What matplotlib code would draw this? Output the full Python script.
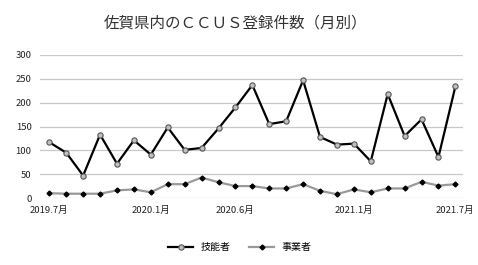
import matplotlib
matplotlib.use("Agg")
import matplotlib.pyplot as plt

plt.rcParams['font.family'] = ['Noto Sans CJK JP', 'DejaVu Sans']

months = ["2019.7月", "2019.8月", "2019.9月", "2019.10月", "2019.11月", "2019.12月",
          "2020.1月", "2020.2月", "2020.3月", "2020.4月", "2020.5月", "2020.6月",
          "2020.7月", "2020.8月", "2020.9月", "2020.10月", "2020.11月", "2020.12月",
          "2021.1月", "2021.2月", "2021.3月", "2021.4月", "2021.5月", "2021.6月", "2021.7月"]
technicians = [117, 95, 47, 133, 72, 121, 91, 148, 101, 105, 146, 190,
               237, 155, 161, 247, 128, 112, 114, 77, 218, 130, 165, 86, 234]
businesses = [10, 9, 9, 9, 16, 18, 12, 29, 29, 43, 33, 25,
              25, 20, 20, 29, 15, 8, 18, 12, 20, 20, 34, 26, 29]
shown_labels = ["2019.7月", "2020.1月", "2020.6月", "2021.1月", "2021.7月"]
yticks = [0, 50, 100, 150, 200, 250, 300]

fig = plt.figure(figsize=(4.78, 2.65), dpi=100)
ax = fig.add_axes([40/478, 1-198/265, (463-40)/478, (198-55)/265])

x = list(range(len(months)))
ax.plot(x, businesses, color='#999999', lw=1.6, marker='D', ms=2.5,
        mfc='black', mec='black', label='事業者', zorder=3)
ax.plot(x, technicians, color='black', lw=1.6, marker='o', ms=3.8,
        mfc='#c0c0c0', mec='#555555', mew=0.8, label='技能者', zorder=4)

ax.set_ylim(0, 300)
ax.set_xlim(-0.55, len(months) - 0.55)
ax.set_yticks(yticks)
ax.set_yticklabels([str(v) for v in yticks], fontsize=6.8, color='#222222')
tick_pos = [months.index(m) for m in shown_labels]
ax.set_xticks(tick_pos)
ax.set_xticklabels(shown_labels, fontsize=6.8, color='#222222')
ax.tick_params(length=0, pad=6)
ax.grid(axis='y', color='#c8c8c8', lw=0.9)
ax.set_axisbelow(True)
for s in ax.spines.values():
    s.set_visible(False)

fig.text(236/478, 1-23/265, '佐賀県内のＣＣＵＳ登録件数（月別）', ha='center', va='center',
         fontsize=11.2, color='#333333')

handles, labels = ax.get_legend_handles_labels()
fig.legend(handles[::-1], labels[::-1], loc='center', bbox_to_anchor=(240/478, 1-247/265),
           ncol=2, frameon=False, fontsize=7.2, handlelength=2.5, columnspacing=1.8)

fig.savefig('out.png', dpi=100)
